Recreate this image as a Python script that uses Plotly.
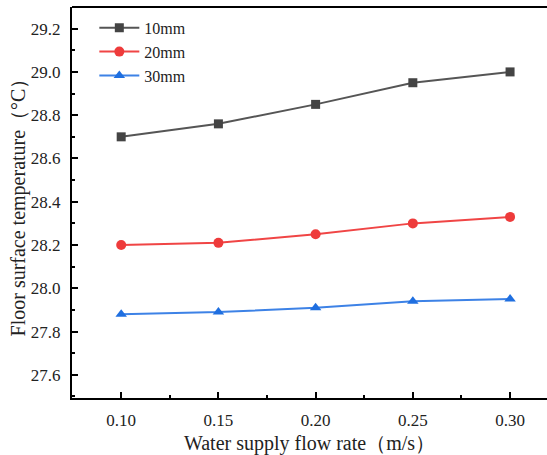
import plotly.graph_objects as go

flow = [0.10, 0.15, 0.20, 0.25, 0.30]
t10 = [28.70, 28.76, 28.85, 28.95, 29.00]
t20 = [28.20, 28.21, 28.25, 28.30, 28.33]
t30 = [27.88, 27.89, 27.91, 27.94, 27.95]
xticks = [0.10, 0.15, 0.20, 0.25, 0.30]
xticklabels = ["0.10", "0.15", "0.20", "0.25", "0.30"]
yticks = [27.6, 27.8, 28.0, 28.2, 28.4, 28.6, 28.8, 29.0, 29.2]

FONT = "Liberation Serif, Times New Roman, serif"

fig = go.Figure()
fig.add_trace(go.Scatter(x=flow, y=t10, name="10mm", mode="lines+markers",
                         line=dict(color="#555555", width=2),
                         marker=dict(symbol="square", size=9, color="#444444")))
fig.add_trace(go.Scatter(x=flow, y=t20, name="20mm", mode="lines+markers",
                         line=dict(color="#f04545", width=2),
                         marker=dict(symbol="circle", size=10, color="#ee3b3b")))
fig.add_trace(go.Scatter(x=flow, y=t30, name="30mm", mode="lines+markers",
                         line=dict(color="#3d82e6", width=2),
                         marker=dict(symbol="triangle-up", size=10, color="#1f6fe0")))

fig.update_layout(
    width=547, height=455,
    margin=dict(l=72, r=0, t=7, b=57, autoexpand=False),
    paper_bgcolor="white", plot_bgcolor="white",
    font=dict(family=FONT, size=17, color="#222222"),
    showlegend=True,
    legend=dict(x=0.047, y=0.99, xanchor="left", yanchor="top",
                bgcolor="rgba(0,0,0,0)", font=dict(size=16),
                tracegroupgap=0, itemwidth=40),
    shapes=[dict(type="line", xref="paper", yref="paper", x0=0, x1=1, y0=1, y1=1,
                 line=dict(color="black", width=2))],
    xaxis=dict(range=[0.0747, 0.319], tickvals=xticks, ticktext=xticklabels,
               automargin=False,
               ticks="inside", ticklen=6, tickwidth=1.5, tickcolor="black",
               showline=True, linecolor="black", linewidth=2, mirror=False,
               showgrid=False, zeroline=False,
               minor=dict(ticks="inside", ticklen=3, tickwidth=1.5, tickcolor="black",
                          dtick=0.025, tick0=0.075, showgrid=False),
               title=dict(text="Water supply flow rate（m/s）", font=dict(size=20), standoff=10),
               ticklabelstandoff=6),
    yaxis=dict(range=[27.493, 29.30], tickvals=yticks,
               automargin=True,
               tickformat=".1f",
               ticks="inside", ticklen=6, tickwidth=1.5, tickcolor="black",
               showline=True, linecolor="black", linewidth=2, mirror=False,
               showgrid=False, zeroline=False,
               minor=dict(ticks="inside", ticklen=3, tickwidth=1.5, tickcolor="black",
                          dtick=0.1, tick0=27.5, showgrid=False),
               title=dict(text="Floor surface temperature（°C）", font=dict(size=20), standoff=0),
               ticklabelstandoff=6),
)

fig.write_html("out.html", config={"displayModeBar": False},
               post_script="document.body.style.margin='0';document.body.style.overflow='hidden';")
